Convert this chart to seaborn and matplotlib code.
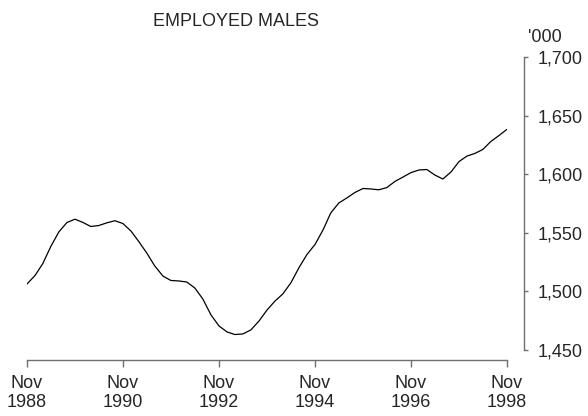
import pandas as pd
import numpy as np
import matplotlib
matplotlib.use('Agg')
import matplotlib.pyplot as plt
import seaborn as sns

# Employed males ('000), read every second month from Nov 1988 to Nov 1998
start_month = '1988-11-01'
employed = [
    1506.3, 1513.6, 1523.7, 1538.3, 1550.7, 1558.8, 1561.6, 1558.8, 1555.4, 1556.2,
    1558.5, 1560.3, 1557.9, 1551.5, 1542.6, 1532.8, 1521.7, 1513.1, 1509.3, 1508.9,
    1508.0, 1502.9, 1493.5, 1479.9, 1470.5, 1465.4, 1463.2, 1463.7, 1467.1, 1474.7,
    1484.1, 1491.8, 1497.8, 1507.2, 1520.0, 1531.5, 1540.0, 1552.4, 1566.9, 1575.4,
    1579.7, 1584.4, 1587.8, 1587.4, 1586.7, 1588.6, 1593.8, 1597.6, 1601.4, 1603.6,
    1604.0, 1599.3, 1595.9, 1601.9, 1610.8, 1615.5, 1617.7, 1621.1, 1627.9, 1633.0,
    1638.3,
]
tick_years = [1988, 1990, 1992, 1994, 1996, 1998]
y_ticks = [1450, 1500, 1550, 1600, 1650, 1700]

df = pd.DataFrame({
    'date': pd.date_range(start_month, periods=len(employed), freq='2MS'),
    'employed': employed,
})

sns.set_style('white')
plt.rcParams['font.family'] = ['Liberation Sans', 'DejaVu Sans']

fig = plt.figure(figsize=(5.88, 4.16), dpi=100)
ax = fig.add_axes([27 / 588, 1 - 350 / 416, 480 / 588, 293 / 416])

sns.lineplot(data=df, x='date', y='employed', color='black', linewidth=0.9, ax=ax)

ax.set_xlim(pd.Timestamp('1988-11-01'), pd.Timestamp('1998-11-01'))
ax.set_ylim(1450, 1700)

ax.set_xticks([pd.Timestamp(f'{y}-11-01') for y in tick_years])
ax.set_xticklabels([f'Nov\n{y}' for y in tick_years], linespacing=1.1)
ax.set_yticks(y_ticks)
ax.set_yticklabels([f'{v:,}' for v in y_ticks])

ax.yaxis.tick_right()
ax.set_xlabel('')
ax.set_ylabel('')

for s in ['left', 'top']:
    ax.spines[s].set_visible(False)
axis_grey = '#707070'
ax.spines['right'].set_position(('outward', 12.2))
ax.spines['bottom'].set_position(('outward', 7.2))
for s in ['right', 'bottom']:
    ax.spines[s].set_color(axis_grey)
    ax.spines[s].set_linewidth(1.0)

ax.tick_params(axis='x', direction='out', length=5, width=1.0, color=axis_grey,
               pad=5.5, labelsize=13, bottom=True)
ax.tick_params(axis='y', direction='out', length=3, width=1.0, color=axis_grey,
               pad=7, labelsize=13, right=True, left=False)

fig.text(236 / 588, 1 - 26 / 416, 'EMPLOYED MALES', ha='center', va='baseline', fontsize=13)
fig.text(528 / 588, 1 - 42 / 416, "'000", ha='left', va='baseline', fontsize=13)

fig.savefig('out.png', dpi=100)
